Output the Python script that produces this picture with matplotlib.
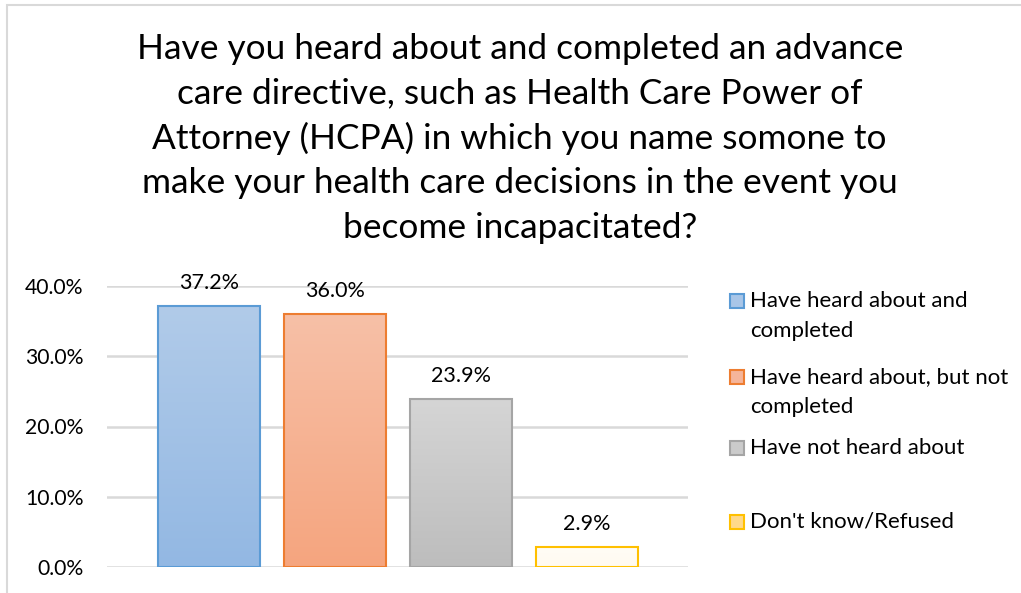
import numpy as np
import matplotlib.pyplot as plt
from matplotlib.patches import Rectangle
from matplotlib.colors import LinearSegmentedColormap

plt.rcParams['font.family'] = ['Lato', 'DejaVu Sans']

# --------------------- datos ---------------------
titulo = ("Have you heard about and completed an advance\n"
          "care directive, such as Health Care Power of\n"
          "Attorney (HCPA) in which you name somone to\n"
          "make your health care decisions in the event you\n"
          "become incapacitated?")
series = ["Have heard about and\ncompleted",
          "Have heard about, but not\ncompleted",
          "Have not heard about",
          "Don't know/Refused"]
valores = [37.2, 36.0, 23.9, 2.9]
yticks = [0, 10, 20, 30, 40]

# colores: borde, arriba, abajo (degradado estilo Excel)
bordes = ["#5b9bd5", "#ed7d31", "#a5a5a5", "#ffc000"]
arriba = ["#b1cbe9", "#f7c0a7", "#d5d5d5", "#fffdf6"]
abajo = ["#93b8e3", "#f5a57f", "#bdbdbd", "#fffaf0"]
muestra = ["#a9c6e8", "#f5b59a", "#cbcbcb", "#ffd98a"]

fig = plt.figure(figsize=(10.21, 5.93), dpi=100)

# marco gris del grafico
fig.patches.append(Rectangle((7/1021, -0.1), 1.2, 1.1 - 5/593, transform=fig.transFigure,
                             fill=False, edgecolor="#d9d9d9", linewidth=1.5))

fig.text(0.509, 1 - 33/593, titulo, ha="center", va="top", fontsize=25.4,
         linespacing=1.47, color="#000000")

ax = fig.add_axes([107/1021, 26/593, (688-107)/1021, (567-286)/593])
x = np.arange(len(valores))
ancho = 0.81
barras = ax.bar(x, valores, width=ancho, facecolor="none", edgecolor=bordes,
                linewidth=1.5, zorder=3)

for i, b in enumerate(barras):
    cmap = LinearSegmentedColormap.from_list("g%d" % i, [abajo[i], arriba[i]])
    grad = np.linspace(0, 1, 100).reshape(-1, 1)
    im = ax.imshow(grad, cmap=cmap, aspect="auto", origin="lower",
                   extent=(b.get_x(), b.get_x() + b.get_width(), 0, b.get_height()),
                   zorder=2)
    im.set_clip_path(b)
    ax.text(b.get_x() + b.get_width()/2, b.get_height() + 1.8, "%.1f%%" % valores[i],
            ha="center", va="bottom", fontsize=15.5, color="#000000", clip_on=False)

ax.set_xlim(-0.81, 3.80)
ax.set_ylim(0, 40)
ax.set_yticks(yticks)
ax.set_yticklabels(["%.1f%%" % t for t in yticks], fontsize=15.2)
ax.set_xticks([])
ax.tick_params(axis="y", length=0, pad=17)
for s in ax.spines.values():
    s.set_visible(False)
ax.grid(axis="y", color="#d9d9d9", linewidth=1.8, zorder=0)
ax.set_axisbelow(True)

# leyenda manual a la derecha
ys = [301, 377, 448, 522]
for i, nombre in enumerate(series):
    yc = 1 - ys[i]/593
    fig.patches.append(Rectangle((730/1021, yc - 7/593), 14/1021, 14/593,
                                 transform=fig.transFigure, facecolor=muestra[i],
                                 edgecolor=bordes[i], linewidth=1.5))
    fig.text(750/1021, yc + 10/593, nombre, ha="left", va="top", fontsize=16,
             linespacing=1.62, color="#000000")

fig.savefig("out.png", dpi=100)
